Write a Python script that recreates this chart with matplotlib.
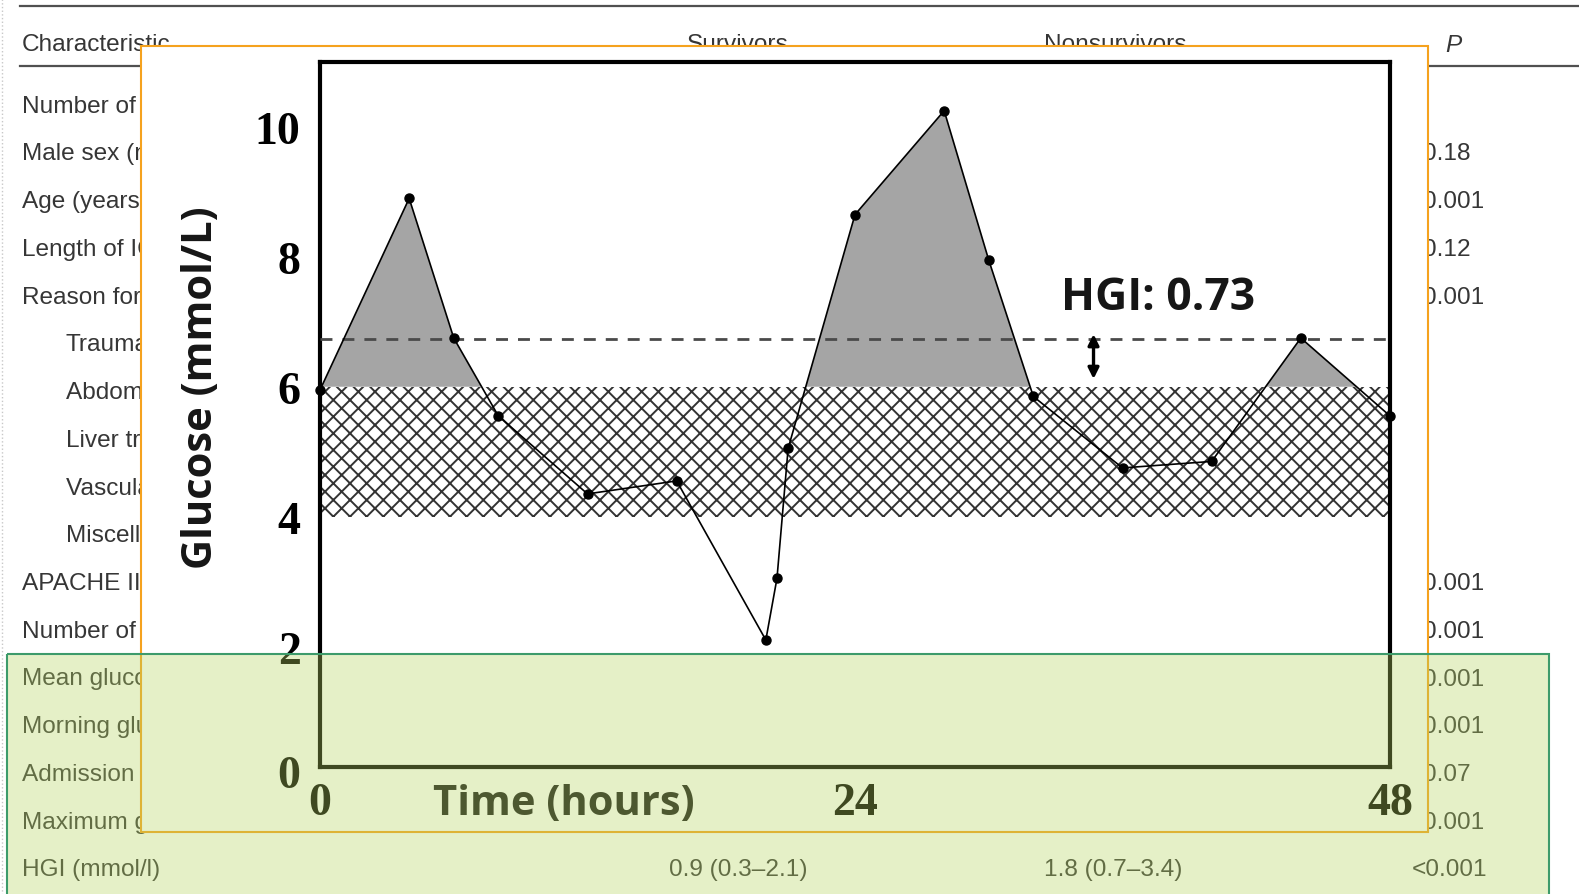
import matplotlib
matplotlib.use("Agg")
import matplotlib.pyplot as plt
import numpy as np
from matplotlib.patches import Rectangle
from matplotlib.transforms import blended_transform_factory

# glucose profile over two days
hours = [0, 4, 6, 8, 12, 16, 20, 20.5, 21, 24, 28, 30, 32, 36, 40, 44, 48]
glucose = [5.95, 8.9, 6.75, 5.55, 4.35, 4.55, 2.1, 3.05, 5.05, 8.65, 10.25,
           7.95, 5.85, 4.75, 4.85, 6.75, 5.55]
target_low = 4.0
target_high = 6.0
hgi = 0.73
x_ticks = [0, 24, 48]
y_ticks = [2, 4, 6, 8, 10]

# table behind the chart
row_labels = [
    "Number of patients", "Male sex (n, %)", "Age (years)",
    "Length of ICU stay (days)", "Reason for admission (n, %)",
    "Trauma", "Abdominal surgery", "Liver transplantation",
    "Vascular surgery", "Miscellaneous", "APACHE II score",
    "Number of glucose values", "Mean glucose level",
    "Morning glucose level", "Admission glucose level",
    "Maximum glucose level", "HGI (mmol/l)",
]
row_indent = [False] * 5 + [True] * 5 + [False] * 7
survivors_col = [""] * 16 + ["0.9 (0.3\u20132.1)"]
nonsurvivors_col = [""] * 16 + ["1.8 (0.7\u20133.4)"]
p_col = ["", "0.18", "0.001", "0.12", "0.001", "", "", "", "", "",
         "0.001", "0.001", "0.001", "0.001", "0.07", "0.001", "<0.001"]

W, H = 1579, 895
plt.rcParams["font.family"] = "Liberation Serif"
plt.rcParams["font.weight"] = "bold"
plt.rcParams["hatch.linewidth"] = 1.4

fig = plt.figure(figsize=(W / 100, H / 100), dpi=100)

# --- background page (pixel coordinates) ---
bg = fig.add_axes([0, 0, 1, 1])
bg.set_xlim(0, W)
bg.set_ylim(H, 0)
bg.axis("off")

table_kw = dict(family="Liberation Sans", weight="normal", fontsize=17.6,
                color="#363636", va="center")
bg.plot([1.5, 1.5], [0, H], color="#c8c8c8", lw=1, ls=":")
bg.plot([20, W], [7, 7], color="#505050", lw=1.6)
bg.plot([20, W], [67, 67], color="#505050", lw=1.6)
bg.text(22, 45, "Characteristic", **table_kw)
bg.text(738, 45, "Survivors", ha="center", **table_kw)
bg.text(1115, 45, "Nonsurvivors", ha="center", **table_kw)
bg.text(1445, 45, "P", style="italic", **table_kw)

for i, label in enumerate(row_labels):
    y = 106.5 + 47.75 * i
    bg.text(66 if row_indent[i] else 22, y, label, **table_kw)
    if survivors_col[i]:
        bg.text(738, y, survivors_col[i], ha="center", **table_kw)
    if nonsurvivors_col[i]:
        bg.text(1113, y, nonsurvivors_col[i], ha="center", **table_kw)
    if p_col[i].startswith("<"):
        bg.text(1487, y, p_col[i], ha="right", **table_kw)
    elif p_col[i]:
        bg.text(1423, y, p_col[i], ha="left", **table_kw)

# white panel holding the chart
bg.add_patch(Rectangle((141, 47), 1428 - 141, 833 - 47, facecolor="white",
                       edgecolor="#f5a21e", lw=1.5, zorder=10))

# --- glucose chart ---
ax = fig.add_axes([320 / W, 1 - 768 / H, 1070 / W, 705 / H])
ax.set_zorder(2)

ax.fill_between([0, 48], target_low, target_high, facecolor="white",
                hatch="xx", edgecolor="#333333", linewidth=0, zorder=1)
g = np.array(glucose)
ax.fill_between(hours, g, target_high, where=g > target_high,
                interpolate=True, color="#a5a5a5", linewidth=0, zorder=2)
ax.axhline(target_high + hgi, color="#4a4a4a", lw=2.0, dashes=(4.3, 3.6),
           zorder=3)
ax.plot(hours, glucose, color="black", lw=1.2, marker="o", ms=6.5,
        clip_on=False, zorder=5)
ax.annotate("", xy=(34.7, target_high + 0.12), xytext=(34.7, target_high + hgi + 0.08),
            arrowprops=dict(arrowstyle="<|-|>", color="black", lw=2.4,
                            mutation_scale=16, shrinkA=0, shrinkB=0), zorder=6)

sans_bold = dict(family="Open Sans", weight="bold", color="#161616")
ax.text(37.6, 7.37, f"HGI: {hgi}", ha="center", va="center", fontsize=32,
        **sans_bold)

ax.set_xlim(0, 48)
ax.set_ylim(0.145, 11.0)
ax.set_xticks(x_ticks)
ax.set_yticks(y_ticks)
ax.tick_params(length=0, labelsize=33)
ax.tick_params(axis="y", pad=14)
ax.tick_params(axis="x", pad=11)
trans = blended_transform_factory(ax.transAxes, ax.transData)
ax.text(-0.0187, 0, "0", transform=trans, ha="right", va="center",
        fontsize=33, clip_on=False)
for spine in ax.spines.values():
    spine.set_linewidth(3)

ax.set_xlabel("Time (hours)", fontsize=30, va="center", **sans_bold)
ax.xaxis.set_label_coords(0.228, -0.052)
ax.set_ylabel("Glucose (mmol/L)", fontsize=30, va="center", **sans_bold)
ax.yaxis.set_label_coords(-0.111, 0.54)

# --- highlight overlay ---
top = fig.add_axes([0, 0, 1, 1])
top.set_zorder(3)
top.patch.set_visible(False)
top.set_xlim(0, W)
top.set_ylim(H, 0)
top.axis("off")
top.add_patch(Rectangle((7, 655), 1549 - 7, 260, facecolor=(0.71, 0.83, 0.38),
                        alpha=0.35, lw=0))
top.add_patch(Rectangle((7, 655), 1549 - 7, 260, facecolor="none",
                        edgecolor="#3d9b6b", lw=1.5))

fig.savefig("out.png", dpi=100)
